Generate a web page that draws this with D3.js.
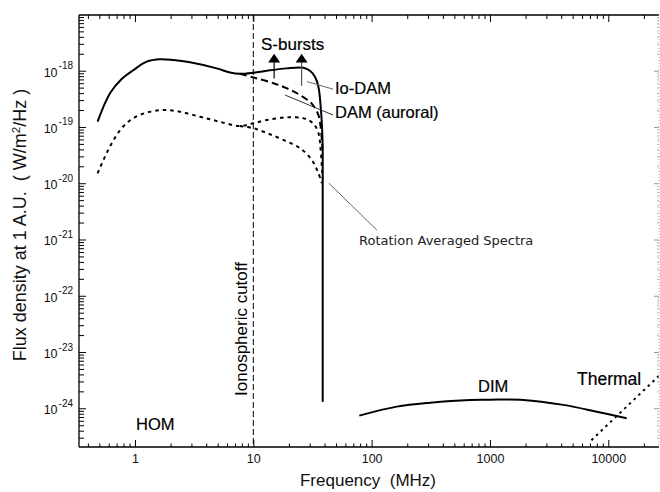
<!DOCTYPE html>
<html><head><meta charset="utf-8">
<script src="https://cdn.jsdelivr.net/npm/d3@7"></script>
<style>
body{margin:0;background:#fff;}
svg{display:block;font-family:"Liberation Sans",Arial,Helvetica,sans-serif;}
</style></head><body>
<svg id="chart" width="660" height="492"></svg>
<script>
// ---- tick data ----
const xMajor = [1, 10, 100, 1000, 10000];
const xTickLabels = ["1", "10", "100", "1000", "10000"];
const yMajorExp = [-18, -19, -20, -21, -22, -23, -24];

// ---- series (frequency in MHz, flux in W/m^2/Hz) ----
// upper envelope: HOM + Io-DAM (solid)
const peakFreq = [0.483, 0.615, 0.772, 0.967, 1.256, 1.63, 2.11, 2.92, 4.9, 6.35, 7.7, 10, 13, 19.1, 26.5, 30.1, 33.2, 35.5, 37.1, 38.1, 38.6];
const peakFlux = [1.24e-19, 3.96e-19, 7.1e-19, 1.02e-18, 1.45e-18, 1.6e-18, 1.55e-18, 1.41e-18, 1.1e-18, 9.3e-19, 8.8e-19, 9.2e-19, 1.0e-18, 1.1e-18, 1.13e-18, 1.0e-18, 7.8e-19, 5.2e-19, 2.3e-19, 1.0e-19, 3.9e-20];
// sharp cutoff of Io-DAM near 40 MHz
const cutoffFreq = [38.6, 38.6];
const cutoffFlux = [3.9e-20, 1.3e-24];
// DAM (auroral), dashed
const auroralFreq = [7.7, 10, 14.8, 19.1, 24.8, 31.2, 35.5, 37.1, 38.4];
const auroralFlux = [8.8e-19, 7.6e-19, 6.0e-19, 4.9e-19, 3.7e-19, 2.6e-19, 1.63e-19, 1.0e-19, 4.0e-20];
// rotation averaged spectra, dotted (Io + auroral)
const avgIoFreq = [0.483, 0.615, 0.772, 0.967, 1.256, 1.74, 2.4, 3.54, 5.2, 7.7, 10, 13, 19.1, 26.5, 32, 35.5, 37.1, 38.5];
const avgIoFlux = [1.5e-20, 4.5e-20, 9.5e-20, 1.43e-19, 1.8e-19, 2.0e-19, 1.87e-19, 1.52e-19, 1.24e-19, 1.04e-19, 1.16e-19, 1.33e-19, 1.48e-19, 1.43e-19, 1.16e-19, 7.8e-20, 3.9e-20, 1.2e-20];
// rotation averaged, auroral only
const avgAurFreq = [7.7, 10, 13, 17.9, 24.8, 31.2, 35.5, 38.0];
const avgAurFlux = [1.04e-19, 9.5e-20, 7.8e-20, 5.9e-20, 4.2e-20, 2.6e-20, 1.5e-20, 1.0e-20];
// DIM
const dimFreq = [78.7, 163, 312, 679, 1000, 1917, 4170, 8000, 14300];
const dimFlux = [7.4e-25, 1.07e-24, 1.26e-24, 1.41e-24, 1.42e-24, 1.41e-24, 1.15e-24, 8.7e-25, 6.65e-25];
// Thermal
const thermalFreq = [7200, 26500];
const thermalFlux = [2.7e-25, 3.7e-24];
// S-burst arrows
const burstFreq = [15, 25.6];
const burstLow = [7.3e-19, 5.4e-19];
const burstTip = [2.0e-18, 2.0e-18];
// ionospheric cutoff
const ionoFreq = 10;

// ---- layout ----
const M = {left: 79, right: 659, top: 15, bottom: 447};
const svg = d3.select("#chart");
const x = d3.scaleLog().domain([Math.pow(10, -0.473), Math.pow(10, 4.4286)]).range([M.left, M.right]);
const y = d3.scaleLog().domain([Math.pow(10, -24.688), Math.pow(10, -17.01)]).range([M.bottom, M.top]);

// minor ticks
const xMinor = [];
for (let e = -1; e <= 4; e++) for (let k = 2; k <= 9; k++) {
  const v = k * Math.pow(10, e);
  if (v > x.domain()[0] && v < x.domain()[1]) xMinor.push(v);
}
const yMinor = [];
for (let e = -25; e <= -18; e++) for (let k = 2; k <= 9; k++) {
  const v = k * Math.pow(10, e);
  if (v > y.domain()[0] && v < y.domain()[1]) yMinor.push(v);
}
const yMajor = yMajorExp.map(e => Math.pow(10, e));

function styleAxis(g, color) {
  g.select(".domain").remove();
  g.selectAll("line").attr("stroke", color || "#000").attr("stroke-width", 1);
  return g;
}
// bottom
svg.append("g").attr("transform", `translate(0,${M.bottom})`)
  .call(d3.axisBottom(x).tickValues(xMajor).tickSize(-7).tickPadding(7).tickFormat((d, i) => xTickLabels[i]))
  .call(g => styleAxis(g))
  .call(g => g.selectAll("text").attr("font-size", 12.5).attr("fill", "#111").attr("font-family", "Liberation Sans, Arial, sans-serif"));
svg.append("g").attr("transform", `translate(0,${M.bottom})`)
  .call(d3.axisBottom(x).tickValues(xMinor).tickSize(-3.5).tickFormat(""))
  .call(g => styleAxis(g));
// top
svg.append("g").attr("transform", `translate(0,${M.top})`)
  .call(d3.axisTop(x).tickValues(xMajor).tickSize(-7).tickFormat(""))
  .call(g => styleAxis(g));
svg.append("g").attr("transform", `translate(0,${M.top})`)
  .call(d3.axisTop(x).tickValues(xMinor).tickSize(-4).tickFormat(""))
  .call(g => styleAxis(g));
// left
const yAxisG = svg.append("g").attr("transform", `translate(${M.left},0)`)
  .call(d3.axisLeft(y).tickValues(yMajor).tickSize(-7).tickPadding(6).tickFormat(""))
  .call(g => styleAxis(g));
yAxisG.selectAll(".tick text").each(function(d, i) {
  const t = d3.select(this).attr("font-size", 12.5).attr("fill", "#111").attr("dy", "0.44em")
    .attr("font-family", "Liberation Sans, Arial, sans-serif");
  t.append("tspan").text("10");
  t.append("tspan").attr("font-size", 10).attr("dy", -7.5).attr("dx", 1).text(String(yMajorExp[i]));
});
svg.append("g").attr("transform", `translate(${M.left},0)`)
  .call(d3.axisLeft(y).tickValues(yMinor).tickSize(-5).tickFormat(""))
  .call(g => styleAxis(g));
// right (faint)
svg.append("g").attr("transform", `translate(${M.right},0)`)
  .call(d3.axisRight(y).tickValues(yMajor).tickSize(-5).tickFormat(""))
  .call(g => styleAxis(g, "#999"));
svg.append("g").attr("transform", `translate(${M.right},0)`)
  .call(d3.axisRight(y).tickValues(yMinor).tickSize(-2).tickFormat(""))
  .call(g => styleAxis(g, "#bbb"));

// frame
svg.append("line").attr("x1", M.left).attr("x2", M.left).attr("y1", M.top).attr("y2", M.bottom).attr("stroke", "#000").attr("stroke-width", 1.3);
svg.append("line").attr("x1", M.left).attr("x2", M.right).attr("y1", M.bottom).attr("y2", M.bottom).attr("stroke", "#000").attr("stroke-width", 1.3);
svg.append("line").attr("x1", M.left).attr("x2", M.right).attr("y1", M.top).attr("y2", M.top).attr("stroke", "#000").attr("stroke-width", 1.3);
svg.append("line").attr("x1", M.right).attr("x2", M.right).attr("y1", M.top).attr("y2", M.bottom).attr("stroke", "#aaa").attr("stroke-width", 1).attr("stroke-dasharray", "1,2");

// clip
svg.append("clipPath").attr("id", "clip").append("rect")
  .attr("x", M.left).attr("y", M.top).attr("width", M.right - M.left).attr("height", M.bottom - M.top);
const plot = svg.append("g").attr("clip-path", "url(#clip)");

const zip = (a, b) => a.map((v, i) => [v, b[i]]);
const smooth = d3.line().x(d => x(d[0])).y(d => y(d[1])).curve(d3.curveCatmullRom.alpha(0.5));
const straight = d3.line().x(d => x(d[0])).y(d => y(d[1]));

// ionospheric cutoff
plot.append("line").attr("x1", x(ionoFreq)).attr("x2", x(ionoFreq)).attr("y1", M.top).attr("y2", M.bottom)
  .attr("stroke", "#000").attr("stroke-width", 1).attr("stroke-dasharray", "6,3");

// rotation averaged (dotted)
plot.append("path").attr("d", smooth(zip(avgIoFreq, avgIoFlux))).attr("fill", "none").attr("stroke", "#000").attr("stroke-width", 2).attr("stroke-dasharray", "3.5,4");
plot.append("path").attr("d", smooth(zip(avgAurFreq, avgAurFlux))).attr("fill", "none").attr("stroke", "#000").attr("stroke-width", 2).attr("stroke-dasharray", "3.5,4");
// auroral dashed
plot.append("path").attr("d", smooth(zip(auroralFreq, auroralFlux))).attr("fill", "none").attr("stroke", "#000").attr("stroke-width", 2).attr("stroke-dasharray", "7,4");
// peak solid
plot.append("path").attr("d", smooth(zip(peakFreq, peakFlux))).attr("fill", "none").attr("stroke", "#000").attr("stroke-width", 2).attr("stroke-linejoin", "round");
plot.append("path").attr("d", straight(zip(cutoffFreq, cutoffFlux))).attr("fill", "none").attr("stroke", "#000").attr("stroke-width", 2);
// DIM
plot.append("path").attr("d", smooth(zip(dimFreq, dimFlux))).attr("fill", "none").attr("stroke", "#000").attr("stroke-width", 2);
// Thermal
plot.append("path").attr("d", straight(zip(thermalFreq, thermalFlux))).attr("fill", "none").attr("stroke", "#000").attr("stroke-width", 2).attr("stroke-dasharray", "2.5,4");

// S-burst arrows
burstFreq.forEach((f, i) => {
  const px = x(f), yLow = y(burstLow[i]), yTip = y(burstTip[i]);
  plot.append("line").attr("x1", px).attr("x2", px).attr("y1", yLow).attr("y2", yTip + 8)
    .attr("stroke", i === 0 ? "#000" : "#555").attr("stroke-width", 1.2);
  plot.append("path").attr("d", `M${px},${yTip}L${px - 6},${yTip + 8.7}L${px + 6},${yTip + 8.7}Z`).attr("fill", "#000");
});

// leader lines
const leaders = [
  [[28.4, 6.4e-19], [47.2, 4.7e-19]],
  [[18.5, 3.7e-19], [47.2, 1.63e-19]],
  [[43.6, 1.0e-20], [111, 1.46e-21]]
];
leaders.forEach((L, i) => {
  plot.append("path").attr("d", straight(L)).attr("stroke", i === 1 ? "#333" : "#666").attr("stroke-width", 1).attr("fill", "none");
});

// annotations
function label(txt, px, py, opts) {
  opts = opts || {};
  const sw = opts.stroke === undefined ? 0.2 : opts.stroke;
  const t = svg.append("text").attr("x", px).attr("y", py).attr("font-size", opts.size || 16.5)
    .attr("fill", "#000").attr("text-anchor", opts.anchor || "start").style("white-space", "pre").text(txt);
  if (sw > 0) t.attr("stroke", "#000").attr("stroke-width", sw);
  if (opts.family) t.attr("font-family", opts.family);
  if (opts.rotate) t.attr("transform", `rotate(-90,${px},${py})`);
  return t;
}
label("S-bursts", 261, 50, {size: 17});
label("Io-DAM", 335, 94);
label("DAM (auroral)", 335, 118);
label("Rotation Averaged Spectra", 359, 245, {size: 13, stroke: 0, family: "DejaVu Sans, sans-serif"}).attr("fill", "#222");
label("Ionospheric cutoff", 247, 329, {anchor: "middle", rotate: true, stroke: 0, size: 17});
label("HOM", 136, 430);
label("DIM", 478, 392);
label("Thermal", 577, 385, {size: 17.5});

// axis titles
svg.append("text").attr("x", 368).attr("y", 486).attr("text-anchor", "middle").attr("font-size", 17)
  .attr("fill", "#111").style("white-space", "pre").text("Frequency  (MHz)");
const yt = svg.append("text").attr("x", 26).attr("y", 225).attr("text-anchor", "middle").attr("font-size", 18)
  .attr("fill", "#111").attr("transform", "rotate(-90,26,225)").style("white-space", "pre");
yt.append("tspan").text("Flux density at 1 A.U.  ( W/m");
yt.append("tspan").attr("font-size", 11.5).attr("dy", -6.5).text("2");
yt.append("tspan").attr("dy", 6.5).text("/Hz )");
</script>
</body></html>
